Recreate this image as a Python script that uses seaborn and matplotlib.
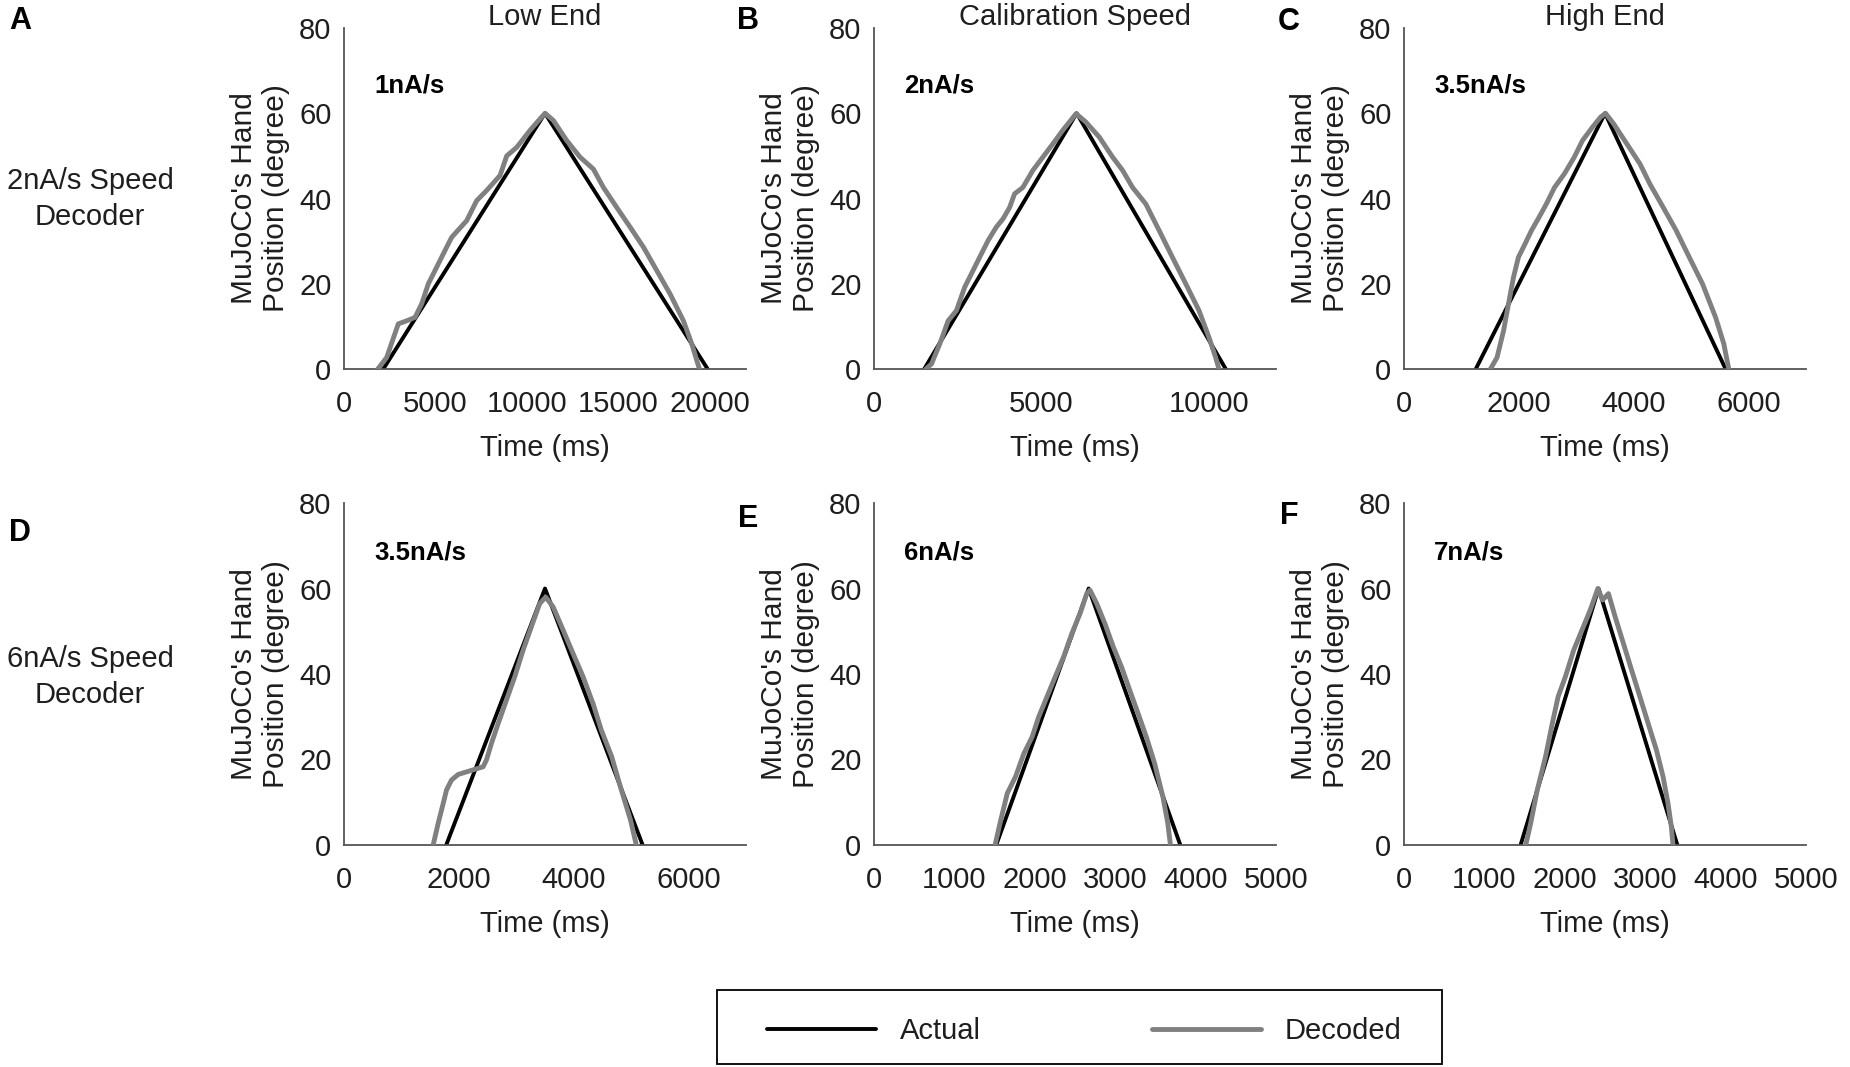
import numpy as np
import pandas as pd
import matplotlib
matplotlib.use("Agg")
import matplotlib.pyplot as plt
import matplotlib.patches as mpatches
import seaborn as sns

# ---------------- data ----------------
col_titles = ["Low End", "Calibration Speed", "High End"]
row_labels = ["2nA/s Speed\nDecoder", "6nA/s Speed\nDecoder"]
panel_letters = ["A", "B", "C", "D", "E", "F"]
speed_labels = ["1nA/s", "2nA/s", "3.5nA/s", "3.5nA/s", "6nA/s", "7nA/s"]
x_max = [22000, 12000, 7000, 7000, 5000, 5000]
x_ticks = [
    [0, 5000, 10000, 15000, 20000],
    [0, 5000, 10000],
    [0, 2000, 4000, 6000],
    [0, 2000, 4000, 6000],
    [0, 1000, 2000, 3000, 4000, 5000],
    [0, 1000, 2000, 3000, 4000, 5000],
]
y_ticks = [0, 20, 40, 60, 80]

# Actual trajectories (time ms, position degree)
act_t_A = [2150, 11000, 19900]
act_y_A = [0, 60, 0]
act_t_B = [1500, 6050, 10500]
act_y_B = [0, 60, 0]
act_t_C = [1250, 3500, 5600]
act_y_C = [0, 60, 0]
act_t_D = [1780, 3500, 5200]
act_y_D = [0, 60, 0]
act_t_E = [1520, 2670, 3810]
act_y_E = [0, 60, 0]
act_t_F = [1450, 2420, 3400]
act_y_F = [0, 60, 0]

# Decoded trajectories
dec_t_A = [1850, 2335, 2973, 3430, 3886, 4252, 4617, 5073, 5620, 5893, 6713,
           7262, 7810, 8540, 8905, 9453, 10183, 10730, 11004, 11459, 12189,
           12919, 13649, 14196, 14926, 15656, 16386, 17116, 17846, 18576,
           19032, 19306, 19452]
dec_y_A = [0, 2.7, 10.6, 11.3, 12.1, 15.3, 20.0, 23.9, 28.6, 30.9, 34.8,
           39.5, 41.9, 45.4, 50.0, 52.0, 56.0, 58.7, 60.0, 58.3, 53.6,
           49.7, 46.9, 42.6, 37.9, 33.3, 28.6, 23.1, 17.6, 11.3,
           5.9, 2.0, 0]
dec_t_B = [1548, 1717, 1964, 2212, 2460, 2708, 2956, 3204, 3403, 3651, 3849,
           4048, 4196, 4444, 4742, 5040, 5337, 5635, 6032, 6329, 6726, 7123,
           7421, 7718, 8115, 8512, 8909, 9306, 9702, 10000, 10198, 10298]
dec_y_B = [0, 1.2, 5.9, 11.3, 13.7, 19.2, 23.1, 27.0, 30.1, 33.3, 35.2,
           37.9, 41.1, 42.6, 46.6, 49.7, 52.8, 56.0, 59.9, 57.9, 54.4, 49.7,
           46.6, 42.6, 38.7, 32.5, 26.2, 20.0, 13.7, 7.4, 2.7, 0]
dec_t_C = [1505, 1620, 1734, 1820, 1906, 1992, 2106, 2220, 2335, 2478, 2621,
           2793, 2965, 3108, 3280, 3423, 3509, 3652, 3881, 4110, 4282, 4510,
           4739, 4968, 5197, 5426, 5569, 5655]
dec_y_C = [0, 2.7, 9.0, 15.3, 21.5, 26.2, 29.3, 32.5, 35.2, 38.7, 42.6,
           45.8, 49.7, 53.6, 56.7, 59.1, 60.0, 57.5, 52.8, 48.1, 43.4, 38.0,
           32.5, 26.2, 20.0, 12.1, 5.9, 0]
dec_t_D = [1553, 1640, 1727, 1786, 1872, 1988, 2133, 2278, 2423, 2481, 2568,
           2684, 2829, 2974, 3119, 3264, 3409, 3513, 3641, 3815, 3988, 4162,
           4336, 4480, 4660, 4829, 4990, 5090]
dec_y_D = [0, 5.1, 9.7, 12.9, 15.2, 16.5, 17.1, 17.7, 18.3, 19.9, 23.8,
           28.4, 33.9, 39.4, 45.6, 51.1, 56.5, 58.0, 55.7, 50.3, 44.8, 39.4,
           33.1, 26.9, 20.7, 12.9, 5.8, 0]
dec_t_E = [1506, 1576, 1658, 1761, 1864, 1967, 2049, 2152, 2255, 2358, 2461,
           2564, 2646, 2687, 2770, 2872, 2975, 3078, 3181, 3284, 3387, 3490,
           3593, 3654, 3687]
dec_y_E = [0, 5.8, 12.1, 16.0, 21.4, 25.3, 30.0, 34.7, 39.4, 44.0, 49.5,
           54.2, 58.8, 59.6, 56.5, 51.8, 46.4, 41.7, 36.2, 30.8, 25.3, 19.1,
           11.3, 5.1, 0]
dec_t_F = [1514, 1576, 1658, 1761, 1844, 1917, 2008, 2111, 2214, 2317, 2411,
           2469, 2543, 2626, 2728, 2831, 2934, 3037, 3140, 3222, 3284, 3325,
           3346]
dec_y_F = [0, 5.1, 12.9, 20.7, 28.4, 34.7, 39.4, 45.6, 50.3, 55.0, 60.0,
           57.3, 58.8, 53.4, 47.2, 40.9, 34.7, 28.4, 22.2, 16.0, 9.7, 4.3,
           0]

actual = [(act_t_A, act_y_A), (act_t_B, act_y_B), (act_t_C, act_y_C),
          (act_t_D, act_y_D), (act_t_E, act_y_E), (act_t_F, act_y_F)]
decoded = [(dec_t_A, dec_y_A), (dec_t_B, dec_y_B), (dec_t_C, dec_y_C),
           (dec_t_D, dec_y_D), (dec_t_E, dec_y_E), (dec_t_F, dec_y_F)]

# ---------------- style ----------------
sns.set_theme(style="white")
plt.rcParams["font.family"] = ["Liberation Sans", "DejaVu Sans"]
FS = 21
AX_COL = "#555555"
TXT_COL = "#1e1e1e"

W, H = 1850, 1067
fig = plt.figure(figsize=(W / 100, H / 100), dpi=100)

col_left = [344, 874, 1404]
col_w = 402
row_top = [28, 503]
row_h = [341, 342]

for i in range(6):
    r, c = divmod(i, 3)
    left = col_left[c] / W
    bottom = 1 - (row_top[r] + row_h[r]) / H
    ax = fig.add_axes([left, bottom, col_w / W, row_h[r] / H])
    at, ay = actual[i]
    dt, dy = decoded[i]
    sns.lineplot(x=at, y=ay, ax=ax, color="black", lw=2.8, sort=False,
                 estimator=None, label="Actual", zorder=2)
    sns.lineplot(x=dt, y=dy, ax=ax, color="#808080", lw=3.5, sort=False,
                 estimator=None, label="Decoded", zorder=3)
    if i == 0:
        handles, labels = ax.get_legend_handles_labels()
    ax.get_legend().remove()

    ax.set_xlim(0, x_max[i])
    ax.set_ylim(0, 80)
    ax.set_xticks(x_ticks[i])
    ax.set_yticks(y_ticks)
    ax.set_xticklabels([str(v) for v in x_ticks[i]])
    ax.set_yticklabels([str(v) for v in y_ticks])
    for s in ["top", "right"]:
        ax.spines[s].set_visible(False)
    for s in ["left", "bottom"]:
        ax.spines[s].set_color(AX_COL)
        ax.spines[s].set_linewidth(1.3)
    ax.tick_params(axis="both", direction="in", length=4, width=1.2,
                   color=AX_COL, labelcolor=TXT_COL, labelsize=FS)
    ax.tick_params(axis="y", pad=9)
    ax.tick_params(axis="x", pad=15)
    ax.set_xlabel("Time (ms)", fontsize=FS, color=TXT_COL)
    ax.set_ylabel("MuJoCo's Hand\nPosition (degree)", fontsize=21.5,
                  color=TXT_COL, linespacing=1.15)
    ax.xaxis.set_label_coords(0.5, -0.19)
    ax.yaxis.set_label_coords(-0.135, 0.5)
    ax.text(0.075, 0.83 if r == 0 else 0.855, speed_labels[i],
            transform=ax.transAxes, fontsize=18.5, fontweight="bold",
            color="black", ha="left", va="center")
    if r == 0:
        ax.text(0.5, 1 + 3 / row_h[r], col_titles[c], transform=ax.transAxes,
                fontsize=FS, color=TXT_COL, ha="center", va="baseline")
    ax.patch.set_alpha(0)

# panel letters
letter_pos = [(20, 21), (748, 21), (1289, 22), (20, 533), (748, 519), (1289, 516)]
for L, (px, py) in zip(panel_letters, letter_pos):
    fig.text(px / W, 1 - py / H, L, fontsize=22, fontweight="bold",
             ha="center", va="center", color="black")

# row labels
fig.text(90 / W, 1 - 199 / H, row_labels[0], fontsize=FS, ha="center",
         va="center", color=TXT_COL, linespacing=1.35)
fig.text(90 / W, 1 - 677 / H, row_labels[1], fontsize=FS, ha="center",
         va="center", color=TXT_COL, linespacing=1.35)

# legend (frame drawn separately to match the wide box)
leg = fig.legend(handles, labels, loc="center",
                 bbox_to_anchor=(1084 / W, 1 - 1031 / H), ncol=2,
                 fontsize=FS, frameon=False,
                 handlelength=3.74, handletextpad=0.82, columnspacing=5.86,
                 borderpad=0, borderaxespad=0)
for t in leg.get_texts():
    t.set_color(TXT_COL)
box = mpatches.Rectangle((717 / W, 1 - 1064 / H), (1442 - 717) / W,
                         (1064 - 990) / H, transform=fig.transFigure,
                         fill=False, edgecolor="black", linewidth=1.3)
fig.add_artist(box)

fig.savefig("out.png", dpi=100, facecolor="white")
